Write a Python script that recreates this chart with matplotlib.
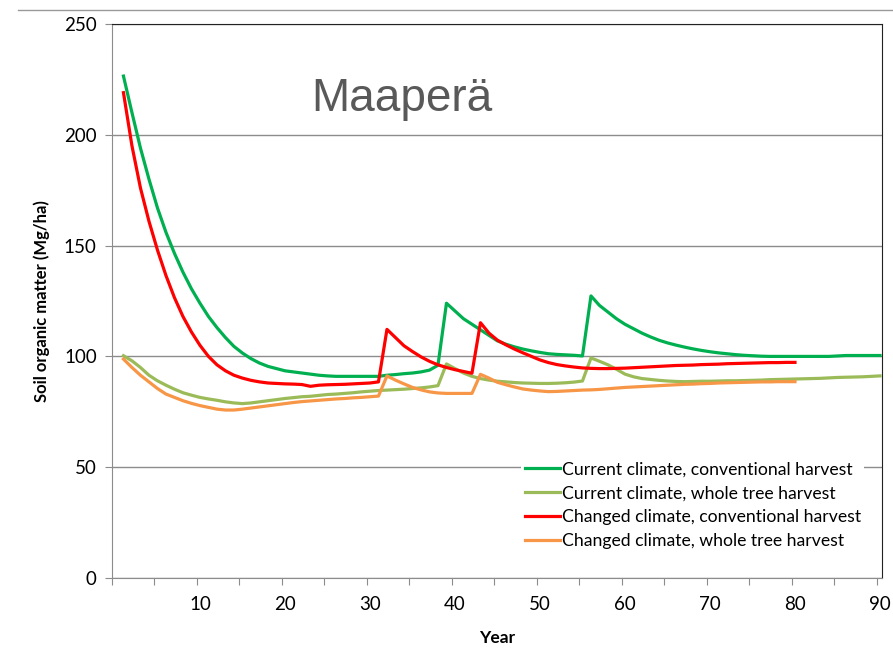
import matplotlib.pyplot as plt
import matplotlib.lines as mlines
import numpy as np

plt.rcParams['font.family'] = ['Lato', 'DejaVu Sans']

# years
years_90 = list(range(1, 91))
years_80 = list(range(1, 81))

cur_conv = [226.5, 210, 194, 180, 167, 156, 146.5, 138, 130.5, 124,
            118, 113, 108.5, 104.5, 101.5, 99, 97, 95.5, 94.5, 93.5,
            93, 92.5, 92, 91.5, 91.2, 91, 91, 91, 91, 91,
            91, 91.5, 91.8, 92.2, 92.5, 93, 93.8, 96, 124, 120.5,
            117, 114.5, 112, 109.5, 107, 105.5, 104.3, 103.3, 102.5, 101.8,
            101.2, 100.9, 100.7, 100.5, 100.2, 127.3, 123, 120, 117, 114.5,
            112.5, 110.5, 108.8, 107.3, 106.1, 105.1, 104.2, 103.4, 102.7, 102.1,
            101.6, 101.2, 100.8, 100.5, 100.3, 100.1, 100, 100, 100, 100,
            100, 100, 100, 100, 100.2, 100.4, 100.4, 100.4, 100.4, 100.4]

cur_whole = [100.3, 98, 95, 91.5, 89, 87, 85.2, 83.6, 82.5, 81.5,
             80.8, 80.2, 79.5, 79, 78.7, 79, 79.5, 80, 80.5, 81,
             81.4, 81.8, 82, 82.4, 82.8, 83, 83.3, 83.6, 84, 84.3,
             84.6, 84.8, 85, 85.2, 85.5, 85.8, 86.2, 86.8, 96.6, 94.5,
             92.5, 91, 90, 89.3, 88.8, 88.5, 88.2, 88, 87.9, 87.8,
             87.8, 87.9, 88.1, 88.4, 88.9, 99.3, 97.8, 96.2, 94.2, 92,
             90.8, 90, 89.6, 89.2, 88.9, 88.7, 88.6, 88.7, 88.8, 88.8,
             88.9, 89, 89, 89.1, 89.2, 89.3, 89.5, 89.6, 89.7, 89.8,
             89.9, 90, 90.1, 90.3, 90.5, 90.6, 90.7, 90.8, 91, 91.2]

chg_conv = [219, 195, 176, 161, 148, 136.5, 126.5, 118, 111, 105,
            100, 96.2, 93.5, 91.5, 90.2, 89.2, 88.5, 88, 87.8, 87.6,
            87.5, 87.3, 86.5, 87, 87.2, 87.3, 87.4, 87.6, 87.8, 88,
            88.5, 112.2, 108.5, 104.8, 102.2, 99.8, 97.8, 96.2, 95, 94,
            93.2, 92.4, 115.2, 110.5, 107.3, 105.2, 103.3, 101.6, 100, 98.4,
            97.2, 96.3, 95.7, 95.2, 94.8, 94.6, 94.5, 94.5, 94.6, 94.7,
            94.9, 95.1, 95.3, 95.5, 95.7, 95.9, 96, 96.1, 96.3, 96.4,
            96.5, 96.7, 96.8, 96.9, 97, 97.1, 97.2, 97.2, 97.3, 97.3]

chg_whole = [98.8, 95, 91.5, 88.5, 85.5, 83, 81.5, 80, 78.8, 77.8,
             77, 76.2, 75.8, 75.8, 76.2, 76.7, 77.2, 77.7, 78.2, 78.7,
             79.2, 79.6, 79.9, 80.2, 80.5, 80.8, 81, 81.3, 81.5, 81.8,
             82.1, 91.2, 89.3, 87.6, 86, 84.9, 84, 83.5, 83.3, 83.3,
             83.3, 83.3, 91.9, 90.2, 88.3, 87.2, 86.2, 85.3, 84.8, 84.4,
             84.1, 84.2, 84.4, 84.6, 84.8, 84.9, 85.1, 85.4, 85.7, 86,
             86.2, 86.4, 86.6, 86.8, 87, 87.2, 87.4, 87.5, 87.7, 87.8,
             88, 88.1, 88.2, 88.3, 88.4, 88.5, 88.5, 88.6, 88.6, 88.6]

labels = ['Current climate, conventional harvest',
          'Current climate, whole tree harvest',
          'Changed climate, conventional harvest',
          'Changed climate, whole tree harvest']
colors = ['#00B050', '#9BBB59', '#FF0000', '#F79646']

fig = plt.figure(figsize=(8.93, 6.48), dpi=100)
ax = fig.add_axes([0.1254, 0.108, 0.8623, 0.855])

ax.plot(years_90, cur_conv, color=colors[0], lw=2.3, label=labels[0])
ax.plot(years_90, cur_whole, color=colors[1], lw=2.3, label=labels[1])
ax.plot(years_80, chg_conv, color=colors[2], lw=2.3, label=labels[2])
ax.plot(years_80, chg_whole, color=colors[3], lw=2.3, label=labels[3])

ax.set_xlim(-0.35, 90.24)
ax.set_ylim(0, 250)
ax.set_yticks([0, 50, 100, 150, 200, 250])
ax.yaxis.grid(True, color='#8c8c8c', lw=1)
ax.set_axisbelow(True)

ax.set_xticks(np.arange(0, 91, 5) - 0.35, minor=False)
ax.set_xticklabels([])
ax.tick_params(axis='x', which='major', length=5, color='#8c8c8c', direction='out')
ax.set_xticks(range(10, 91, 10), minor=True)
ax.set_xticklabels([str(v) for v in range(10, 91, 10)], minor=True)
ax.tick_params(axis='x', which='minor', length=0, pad=13, labelsize=13.5)
ax.tick_params(axis='y', length=5, color='#8c8c8c', labelsize=13.5, pad=6)

for s in ['left', 'bottom']:
    ax.spines[s].set_color('#8c8c8c')
for s in ['top', 'right']:
    ax.spines[s].set_color('#222222')

ax.set_xlabel('Year', fontsize=12.5, fontweight='bold', labelpad=12)
ax.set_ylabel('Soil organic matter (Mg/ha)', fontsize=12, fontweight='bold', labelpad=10)

ax.text(0.377, 0.865, 'Maaperä', transform=ax.transAxes, fontsize=33,
        color='#595959', ha='center', va='center', family='Liberation Sans')

leg = ax.legend(loc='upper left', bbox_to_anchor=(0.52, 0.233), frameon=True,
                fontsize=12.7, handlelength=2.0, handletextpad=0.1,
                labelspacing=0.45, borderpad=0.2)
leg.get_frame().set_edgecolor('none')
leg.get_frame().set_facecolor('white')
leg.get_frame().set_alpha(1)

fig.add_artist(mlines.Line2D([0.02, 1.0], [0.985, 0.985], color='#999999', lw=1))

fig.savefig('out.png', dpi=100)
